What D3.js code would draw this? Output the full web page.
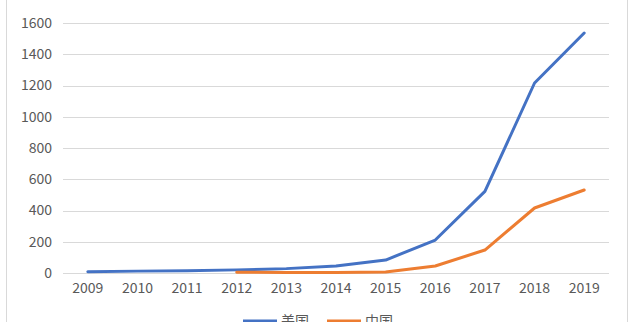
<!DOCTYPE html>
<html><head><meta charset="utf-8">
<script src="https://cdn.jsdelivr.net/npm/d3@7"></script>
<style>
html,body{margin:0;padding:0;background:#fff;overflow:hidden}
text{font-family:"Noto Sans CJK SC","Noto Sans",sans-serif}
</style></head>
<body><svg id="c" width="640" height="322"></svg>
<script>
const years = ["2009","2010","2011","2012","2013","2014","2015","2016","2017","2018","2019"];
const usValues = [8, 12, 15, 20, 28, 45, 83, 211, 522, 1216, 1536];
const cnValues = [null, null, null, 5, 3, 3, 6, 45, 147, 416, 531];
const yTicks = [0, 200, 400, 600, 800, 1000, 1200, 1400, 1600, 1800];
const seriesNames = ["美国", "中国"];
const seriesColors = ["#4472C4", "#ED7D31"];

const svg = d3.select("#c");
// outer frame
svg.append("rect").attr("x", 6.5).attr("y", -10).attr("width", 621).attr("height", 340)
  .attr("fill", "none").attr("stroke", "#d9d9d9").attr("stroke-width", 1);

const x = d3.scaleBand().domain(years).range([63, 609]);
const y = d3.scaleLinear().domain([0, 1600]).range([273, 23]);

// grid
svg.append("g").selectAll("line").data(yTicks).join("line")
  .attr("x1", 63).attr("x2", 609)
  .attr("y1", d => Math.round(y(d)) + 0.5).attr("y2", d => Math.round(y(d)) + 0.5)
  .attr("stroke", "#d9d9d9").attr("stroke-width", 1);

// y axis labels
const yAxis = d3.axisLeft(y).tickValues(yTicks).tickFormat(d3.format("d")).tickSize(0).tickPadding(0);
const gy = svg.append("g").attr("transform", "translate(52,0)").call(yAxis);
gy.select(".domain").remove();
gy.selectAll("text").attr("fill", "#595959").style("font-size", "14px");

// x axis labels
const xAxis = d3.axisBottom(x).tickSize(0).tickPadding(10);
const gx = svg.append("g").attr("transform", "translate(0,273)").call(xAxis);
gx.select(".domain").remove();
gx.selectAll("text").attr("fill", "#595959").style("font-size", "14px");

const line = d3.line()
  .defined(d => d != null)
  .x((d, i) => x(years[i]) + x.bandwidth() / 2)
  .y(d => y(d));

[usValues, cnValues].forEach((vals, k) => {
  svg.append("path").datum(vals)
    .attr("d", line)
    .attr("fill", "none").attr("stroke", seriesColors[k])
    .attr("stroke-width", 3).attr("stroke-linejoin", "round").attr("stroke-linecap", "round");
});

// legend
const legendX = [243, 327];
seriesNames.forEach((name, k) => {
  const g = svg.append("g").attr("transform", `translate(${legendX[k]},321)`);
  g.append("line").attr("x1", 0).attr("x2", 34).attr("y1", 0).attr("y2", 0)
    .attr("stroke", seriesColors[k]).attr("stroke-width", 3);
  g.append("text").attr("x", 38).attr("y", 5).attr("fill", "#595959")
    .style("font-size", "14px").text(name);
});
</script></body></html>
